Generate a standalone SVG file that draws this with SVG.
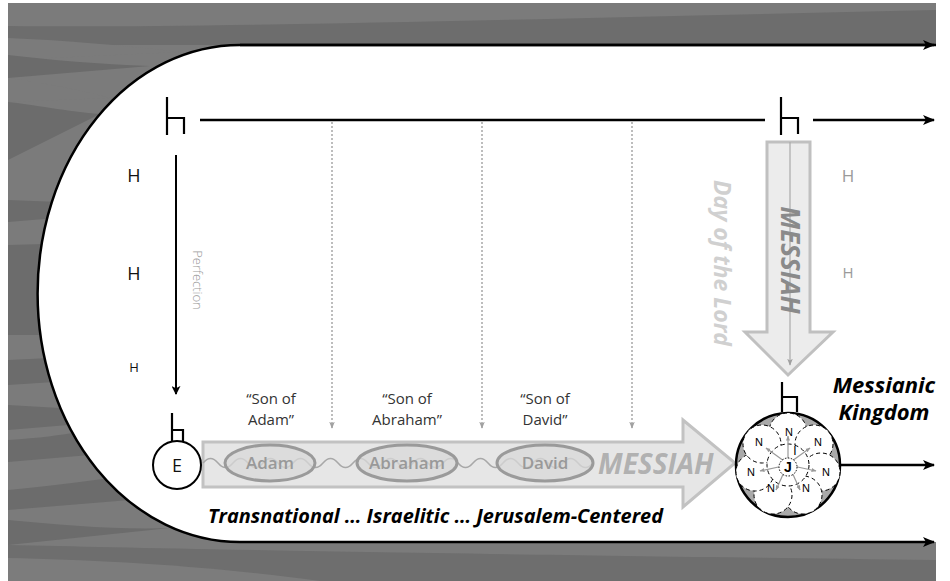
<svg xmlns="http://www.w3.org/2000/svg" width="950" height="581" viewBox="0 0 950 581">
<style>
.ln{fill:none;stroke:#000;stroke-width:2.5}
.hs{fill:none;stroke:#000;stroke-width:2.2}
.dot{fill:none;stroke:#a8a8a8;stroke-width:1.5;stroke-dasharray:2 2}
.lbl{font-family:"Open Sans","Liberation Sans",sans-serif;font-size:15px;fill:#333;text-anchor:middle}
.hl{font-family:"Open Sans","Liberation Sans",sans-serif;fill:#111;text-anchor:middle}
.ov{fill:#d8d8d8;fill-opacity:0.75;stroke:#9a9a9a;stroke-width:3}
.ovt{font-family:"Open Sans","Liberation Sans",sans-serif;font-size:17px;font-weight:600;fill:#999;text-anchor:middle}
.bi{font-family:"Open Sans","Liberation Sans",sans-serif;font-weight:bold;font-style:italic}
.nc{fill:#fff;stroke:#000;stroke-width:1;stroke-dasharray:4 3}
.nt{font-family:"Liberation Sans",sans-serif;font-size:11px;fill:#000;text-anchor:middle}
.ga{stroke:#999;stroke-width:1.2}
</style>
<defs>
<marker id="ah" viewBox="0 0 12 10" refX="11" refY="5" markerWidth="12" markerHeight="10" markerUnits="userSpaceOnUse" orient="auto"><path d="M0,0 L12,5 L0,10 L3,5 z" fill="#000"/></marker>
<marker id="ahs" viewBox="0 0 10 10" refX="9" refY="5" markerWidth="9" markerHeight="9" markerUnits="userSpaceOnUse" orient="auto"><path d="M0,0 L10,5 L0,10 L2.5,5 z" fill="#000"/></marker>
<marker id="gah" viewBox="0 0 10 10" refX="9" refY="5" markerWidth="7" markerHeight="7" markerUnits="userSpaceOnUse" orient="auto"><path d="M0,1 L10,5 L0,9 L2.5,5 z" fill="#a0a0a0"/></marker>
<marker id="gas" viewBox="0 0 10 10" refX="9" refY="5" markerWidth="5" markerHeight="5" markerUnits="userSpaceOnUse" orient="auto"><path d="M0,1 L10,5 L0,9 z" fill="#999"/></marker>
</defs>
<g id="background">
<rect x="0" y="0" width="950" height="581" fill="#fff"/>
<rect x="8" y="3" width="928" height="578" fill="#7b7b7b"/>
<path d="M8,26 C200,28 500,20 936,10 L936,45 L8,45 z" fill="#6d6d6d"/>
<path d="M8,38 C60,40 120,45 180,52 L8,60 z" fill="#7b7b7b"/>
<path d="M8,55 C50,60 100,64 150,66 L8,78 z" fill="#6b6b6b"/>
<path d="M8,78 C40,82 80,90 110,98 L8,102 z" fill="#7b7b7b"/>
<path d="M8,102 C30,104 70,112 100,114 L8,160 z" fill="#6c6c6c"/>
<path d="M8,200 L60,202 L56,218 L8,222 z" fill="#6c6c6c"/>
<path d="M8,245 L45,244 L40,335 L8,335 z" fill="#6c6c6c"/>
<path d="M8,360 L50,358 L54,382 L8,385 z" fill="#6c6c6c"/>
<path d="M8,405 L60,408 L68,425 L8,430 z" fill="#6c6c6c"/>
<path d="M8,440 C40,438 60,435 80,432 L90,455 L8,462 z" fill="#6c6c6c"/>
<path d="M8,490 C50,486 80,482 110,478 L130,500 L8,510 z" fill="#6c6c6c"/>
<path d="M8,520 C60,525 120,530 170,528 L8,545 z" fill="#6c6c6c"/>
<path d="M8,545 C150,548 300,552 936,560 L936,581 L8,581 z" fill="#6e6e6e"/>
<path d="M8,558 C100,560 200,565 320,581 L8,581 z" fill="#7c7c7c"/>
</g>
<g id="board">
<path d="M936,45 H240 A202,248 0 0 0 240,542 H936 z" fill="#fff"/>
</g>
<g id="connectors">
<path class="ln" d="M936,45 H240 A202,248 0 0 0 240,542 H934" marker-end="url(#ah)"/>
<path class="ln" d="M240,45 H934" marker-end="url(#ah)"/>
<line class="ln" x1="200" y1="120" x2="765" y2="120"/>
<line class="ln" x1="813" y1="120" x2="934" y2="120" marker-end="url(#ah)"/>
<line x1="176" y1="155" x2="176" y2="394" stroke="#000" stroke-width="2" marker-end="url(#ahs)"/>
<line class="dot" x1="332" y1="122" x2="332" y2="428" marker-end="url(#gah)"/>
<line class="dot" x1="482" y1="122" x2="482" y2="428" marker-end="url(#gah)"/>
<line class="dot" x1="632" y1="122" x2="632" y2="428" marker-end="url(#gah)"/>
<line class="ln" x1="841" y1="465" x2="934" y2="465" marker-end="url(#ah)"/>
</g>
<g id="h-top-left"><path class="hs" d="M167,97 V135 M167,118 H184 V134"/></g>
<g id="h-top-right"><path class="hs" d="M781,97 V135 M781,118 H798 V134"/></g>
<g id="h-labels-left">
<text class="hl" x="134" y="182" font-size="18">H</text>
<text class="hl" x="134" y="280" font-size="18">H</text>
<text class="hl" x="134" y="372" font-size="13">H</text>
</g>
<g id="h-labels-right">
<text x="848" y="182" font-size="17" font-family="Open Sans, Liberation Sans, sans-serif" fill="#9a9a9a" text-anchor="middle">H</text>
<text x="848" y="278" font-size="15" font-family="Open Sans, Liberation Sans, sans-serif" fill="#9a9a9a" text-anchor="middle">H</text>
</g>
<g id="perfection">
<text transform="translate(193,280) rotate(90)" font-family="Open Sans, Liberation Sans, sans-serif" font-size="13" font-weight="300" fill="#999" text-anchor="middle">Perfection</text>
</g>
<g id="day-of-the-lord">
<text class="bi" transform="translate(714,263) rotate(90)" font-size="23" fill="#d0d0d0" text-anchor="middle">Day of the Lord</text>
</g>
<g id="messiah-down">
<path d="M767,142 H810 V332 H833 L788,375 L745,332 H767 z" fill="#ececec" stroke="#c0c0c0" stroke-width="3"/>
<line x1="790" y1="142" x2="790" y2="365" stroke="#aaa" stroke-width="1.2" marker-end="url(#gah)"/>
<text class="bi" transform="translate(781,260) rotate(90)" font-size="26" fill="#8a8a8a" text-anchor="middle">MESSIAH</text>
</g>
<g id="messiah-arrow">
<path d="M203,442 H683 V420 L735,463 L683,507 V487 H203 z" fill="#e6e6e6" stroke="#c2c2c2" stroke-width="3"/>
<path d="M203,463 q7.5,-9 15,0 t15,0 t15,0 t15,0 t15,0 t15,0 t15,0 t15,0 t15,0 t15,0 t15,0 t15,0 t15,0 t15,0 t15,0 t15,0 t15,0 t15,0 t15,0 t15,0 t15,0 t15,0 t15,0 t15,0 t15,0 t15,0" fill="none" stroke="#a8a8a8" stroke-width="1.5"/>
<text class="bi" x="598" y="474" font-size="28" fill="#aaa" fill-opacity="0.9">MESSIAH</text>
</g>
<g id="adam"><ellipse class="ov" cx="270" cy="463" rx="45" ry="18"/><text class="ovt" x="270" y="469">Adam</text></g>
<g id="abraham"><ellipse class="ov" cx="407" cy="463" rx="50" ry="18"/><text class="ovt" x="407" y="469">Abraham</text></g>
<g id="david"><ellipse class="ov" cx="545" cy="463" rx="48" ry="18"/><text class="ovt" x="545" y="469">David</text></g>
<g id="son-of-adam"><text class="lbl" x="271" y="404">“Son of</text><text class="lbl" x="271" y="425">Adam”</text></g>
<g id="son-of-abraham"><text class="lbl" x="407" y="404">“Son of</text><text class="lbl" x="407" y="425">Abraham”</text></g>
<g id="son-of-david"><text class="lbl" x="545" y="404">“Son of</text><text class="lbl" x="545" y="425">David”</text></g>
<g id="eden">
<path class="hs" d="M172,413 V442 M172,430 H183 V442"/>
<circle cx="177" cy="465" r="24" fill="#fff" stroke="#000" stroke-width="2"/>
<text x="177" y="472" font-family="Open Sans, Liberation Sans, sans-serif" font-size="18" text-anchor="middle" fill="#111">E</text>
</g>
<g id="kingdom">
<path class="hs" d="M782,382 V412 M782,397 H797 V412"/>
<circle cx="788" cy="465" r="52" fill="#a9a9a9" stroke="#000" stroke-width="2.5"/>
<circle class="nc" cx="788" cy="432" r="19"/>
<circle class="nc" cx="814" cy="444" r="19"/>
<circle class="nc" cx="821" cy="472" r="19"/>
<circle class="nc" cx="803" cy="495" r="19"/>
<circle class="nc" cx="773" cy="495" r="19"/>
<circle class="nc" cx="755" cy="472" r="19"/>
<circle class="nc" cx="762" cy="444" r="19"/>
<circle class="nc" cx="788" cy="465" r="21"/>
<g class="ga" marker-end="url(#gas)">
<line x1="788" y1="460" x2="788" y2="436"/>
<line x1="792" y1="461" x2="810" y2="448"/>
<line x1="793" y1="466" x2="816" y2="471"/>
<line x1="791" y1="470" x2="800" y2="490"/>
<line x1="785" y1="470" x2="776" y2="490"/>
<line x1="783" y1="466" x2="760" y2="471"/>
<line x1="784" y1="461" x2="766" y2="448"/>
</g>
<circle cx="788" cy="467" r="9" fill="#fff" stroke="#000" stroke-width="1" stroke-dasharray="1.5 1.5"/>
<text x="788" y="472" font-family="Liberation Sans, sans-serif" font-size="14" font-weight="bold" text-anchor="middle">J</text>
<text x="795" y="455" font-family="Liberation Sans, sans-serif" font-size="12" text-anchor="middle" fill="#000">I</text>
<text class="nt" x="789" y="436">N</text>
<text class="nt" x="818" y="446">N</text>
<text class="nt" x="826" y="476">N</text>
<text class="nt" x="806" y="492">N</text>
<text class="nt" x="771" y="492">N</text>
<text class="nt" x="751" y="476">N</text>
<text class="nt" x="759" y="446">N</text>
</g>
<g id="messianic-kingdom">
<text class="bi" x="884" y="393" font-size="22" fill="#000" text-anchor="middle">Messianic</text>
<text class="bi" x="884" y="420" font-size="22" fill="#000" text-anchor="middle">Kingdom</text>
</g>
<g id="caption">
<text class="bi" x="208" y="523" font-size="19" fill="#000" textLength="455" lengthAdjust="spacingAndGlyphs">Transnational … Israelitic … Jerusalem-Centered</text>
</g>
</svg>
